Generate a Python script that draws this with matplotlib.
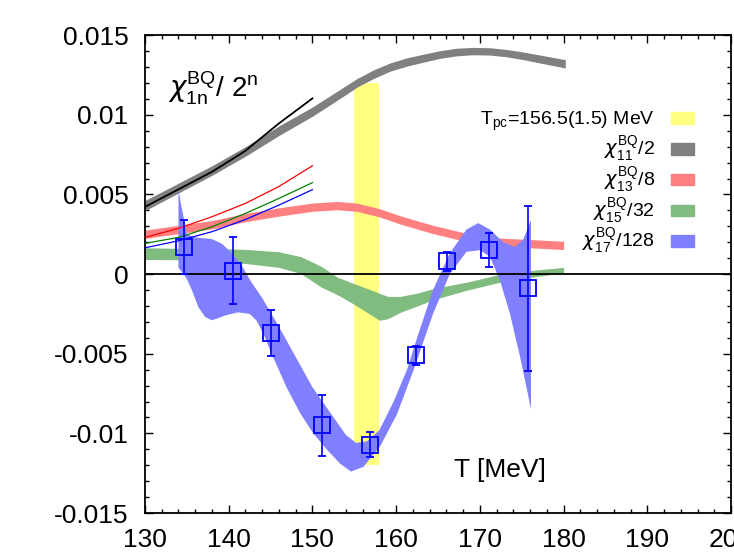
import numpy as np
import matplotlib
matplotlib.use('Agg')
from matplotlib import pyplot as plt
from matplotlib.patches import Patch

plt.rcParams['font.family'] = ['Liberation Sans', 'DejaVu Sans']
plt.rcParams['mathtext.fontset'] = 'dejavusans'  # chi glyph with a proper descender

# chi11/2 band (grey): centre and half width
T_11 = [130, 134, 138, 142, 146, 150, 154, 155.3, 157.3, 159.3, 161.3, 163.3, 165.2, 167.2,
        169.2, 171.2, 173.2, 175.2, 177.2, 180.2]
chi11 = [0.0043, 0.0054, 0.0065, 0.0077, 0.0090, 0.0102, 0.01155, 0.0120, 0.01255, 0.0130,
         0.01332, 0.01356, 0.01378, 0.01394, 0.0140, 0.01398, 0.01387, 0.0137, 0.0135, 0.0132]
chi11_err = [0.00032, 0.00031, 0.0003, 0.0003, 0.0003, 0.00029, 0.00028, 0.00027, 0.00027,
             0.00026, 0.00026, 0.00025, 0.00024, 0.00024, 0.00023, 0.00023, 0.00023, 0.00024,
             0.00025, 0.00026]

# chi13/8 band (red)
T_13 = [130, 134, 138, 142, 146, 150, 153, 155.3, 158, 160.5, 164.4, 168.4, 172.4, 176.4, 180]
chi13 = [0.0025, 0.0028, 0.0031, 0.00355, 0.0039, 0.0042, 0.0043, 0.0042, 0.00385, 0.0034,
         0.0028, 0.0023, 0.0020, 0.0019, 0.0018]
chi13_err = [0.00026] * len(T_13)

# chi15/32 band (green): upper and lower edges
T_15 = [130, 134, 138, 142, 146, 148.6, 151, 153, 155, 156.5, 158, 159, 160.5, 162.5, 164.5,
        168.5, 172.5, 176.5, 180]
chi15_hi = [0.00165, 0.00162, 0.0016, 0.00155, 0.0014, 0.0011, 0.0005, -0.0002, -0.0006, -0.0009,
            -0.0012, -0.0014, -0.0014, -0.0012, -0.0009, -0.0005, 0.0, 0.00025, 0.00042]
chi15_lo = [0.00092, 0.0009, 0.00077, 0.00067, 0.00042, 0.00004, -0.0008, -0.0013, -0.0019, -0.0024,
            -0.0029, -0.0028, -0.0024, -0.0020, -0.0016, -0.0010, -0.0005, -0.00017, 0.00008]

# chi17/128 band (blue): upper and lower edges
T_17_hi = [134.0, 134.3, 134.6, 135.0, 136.0, 138.0, 139.2, 140.4, 141.6, 142.7, 144.0, 146.0,
           148.0, 150.0, 152.0, 154.0, 155.2, 156.5, 158.0, 159.7, 161.3, 162.5, 164.4, 166.4,
           168.4, 169.8, 171.2, 172.8, 174.2, 175.2, 176.1]
chi17_hi = [0.0053, 0.0044, 0.0036, 0.0025, 0.0023, 0.0022, 0.0019, 0.0013, 0.0005, -0.0005,
            -0.0015, -0.0033, -0.0052, -0.0071, -0.0086, -0.0101, -0.0106, -0.0105, -0.0098,
            -0.0080, -0.0060, -0.0040, -0.0010, 0.0013, 0.0028, 0.0032, 0.0028, 0.0020, 0.0017,
            0.0022, 0.0034]
T_17_lo = [134.0, 134.3, 134.6, 135.0, 135.6, 136.4, 137.2, 138.0, 139.6, 141.1, 142.5, 143.3,
           144.1, 145.3, 146.9, 148.5, 150.1, 151.7, 153.3, 154.6, 156.1, 158.1, 160.1, 162.1,
           164.4, 166.4, 168.4, 170.0, 171.2, 172.4, 173.6, 174.8, 175.8, 176.1]
chi17_lo = [0.0004, 0.0002, 0.0, -0.0003, -0.0010, -0.0021, -0.0027, -0.0029, -0.0026, -0.0024,
            -0.0025, -0.0029, -0.0037, -0.0052, -0.0071, -0.0087, -0.0100, -0.0110, -0.0119,
            -0.0124, -0.0121, -0.0108, -0.0088, -0.0060, -0.0025, 0.0, 0.0014, 0.0015, 0.0011,
            -0.0004, -0.0025, -0.0052, -0.0077, -0.0085]

# low temperature (HRG) lines
T_hrg = [130, 134, 138, 142, 146, 150]
hrg_11 = [0.00422, 0.00532, 0.00642, 0.00774, 0.00946, 0.01103]
hrg_13 = [0.0023, 0.00287, 0.0036, 0.00444, 0.0055, 0.0068]
hrg_15 = [0.00193, 0.0023, 0.00297, 0.00381, 0.00475, 0.00574]
hrg_17 = [0.00165, 0.00209, 0.00266, 0.00343, 0.00433, 0.0053]

# chi17/128 data points
T_pts = [134.7, 140.5, 145.05, 151.1, 156.9, 162.4, 166.05, 171.1, 175.8]
chi17_pts = [0.0017, 0.0002, -0.0037, -0.0095, -0.0107, -0.0051, 0.0008, 0.0015, -0.0009]
chi17_pts_err = [0.0017, 0.0021, 0.00145, 0.0019, 0.0008, 0.0006, 0.0006, 0.00105, 0.0052]

# pseudo-critical temperature
Tpc = 156.5
Tpc_err = 1.5
Tpc_band = [-0.012, 0.012]

c_yellow = '#ffff80'
c_grey = '#808080'
c_red = '#ff8080'
c_green = '#80bb80'
c_blue = '#8080ff'

fig = plt.figure(figsize=(7.34, 5.58), dpi=100)
ax = fig.add_axes([0.1975, 0.0806, 0.7985, 0.8564])

ax.fill_betweenx(Tpc_band, Tpc - Tpc_err, Tpc + Tpc_err, color=c_yellow, lw=0, zorder=1)

chi11 = np.array(chi11)
chi11_err = np.array(chi11_err)
ax.fill_between(T_11, chi11 - chi11_err, chi11 + chi11_err, color=c_grey, lw=0, zorder=2)
chi13 = np.array(chi13)
chi13_err = np.array(chi13_err)
ax.fill_between(T_13, chi13 - chi13_err, chi13 + chi13_err, color=c_red, lw=0, zorder=2)
ax.fill_between(T_15, chi15_lo, chi15_hi, color=c_green, lw=0, zorder=2)
ax.fill(np.concatenate([T_17_hi, T_17_lo[::-1]]), np.concatenate([chi17_hi, chi17_lo[::-1]]),
        color=c_blue, lw=0, zorder=3)

ax.plot(T_hrg, hrg_11, color='black', lw=1.3, zorder=4)
ax.plot(T_hrg, hrg_13, color='red', lw=0.9, zorder=4)
ax.plot(T_hrg, hrg_15, color='green', lw=0.9, zorder=4)
ax.plot(T_hrg, hrg_17, color='blue', lw=0.9, zorder=4)

ax.axhline(0, color='black', lw=1.3, zorder=5)

ax.errorbar(T_pts, chi17_pts, yerr=chi17_pts_err, fmt='s', color='blue', mfc='none', ms=12,
            mew=1.3, elinewidth=1.2, capsize=3, capthick=1.2, zorder=6)

ax.set_xlim(130, 200)
ax.set_ylim(-0.015, 0.015)
ax.set_xticks([130, 140, 150, 160, 170, 180, 190, 200])
ax.set_yticks([-0.015, -0.01, -0.005, 0, 0.005, 0.01, 0.015])
ax.set_yticklabels(['-0.015', '-0.01', '-0.005', '0', '0.005', '0.01', '0.015'])
ax.set_xticks(np.arange(130, 201, 2), minor=True)
ax.set_yticks(np.arange(-0.015, 0.0151, 0.001), minor=True)
ax.tick_params(which='both', direction='in', top=True, right=True, labelsize=19)
ax.tick_params(which='major', length=5.5, width=1)
ax.tick_params(which='minor', length=2.8, width=1)
ax.tick_params(axis='x', pad=11)
ax.tick_params(axis='y', pad=12)
for s in ax.spines.values():
    s.set_linewidth(1.3)

ax.text(0.039, 0.889, r'$\chi^\mathregular{BQ}_\mathregular{1n}$/ 2$^\mathregular{n}$',
        transform=ax.transAxes, fontsize=20, va='center', ha='left')
ax.text(0.606, 0.09, 'T [MeV]', transform=ax.transAxes, fontsize=19, va='center', ha='center')

handles = [Patch(color=c_yellow), Patch(color=c_grey), Patch(color=c_red),
           Patch(color=c_green), Patch(color=c_blue)]
labels = [r'T$_\mathregular{pc}$=156.5(1.5) MeV',
          r'$\chi^\mathregular{BQ}_\mathregular{11}$/2',
          r'$\chi^\mathregular{BQ}_\mathregular{13}$/8',
          r'$\chi^\mathregular{BQ}_\mathregular{15}$/32',
          r'$\chi^\mathregular{BQ}_\mathregular{17}$/128']
ax.legend(handles, labels, loc='upper right', bbox_to_anchor=(0.95, 0.86), frameon=False,
          markerfirst=False, fontsize=14, handlelength=1.2, handleheight=0.55,
          labelspacing=0.08, handletextpad=0.8, borderaxespad=0)

plt.savefig('out.png', dpi=100)
